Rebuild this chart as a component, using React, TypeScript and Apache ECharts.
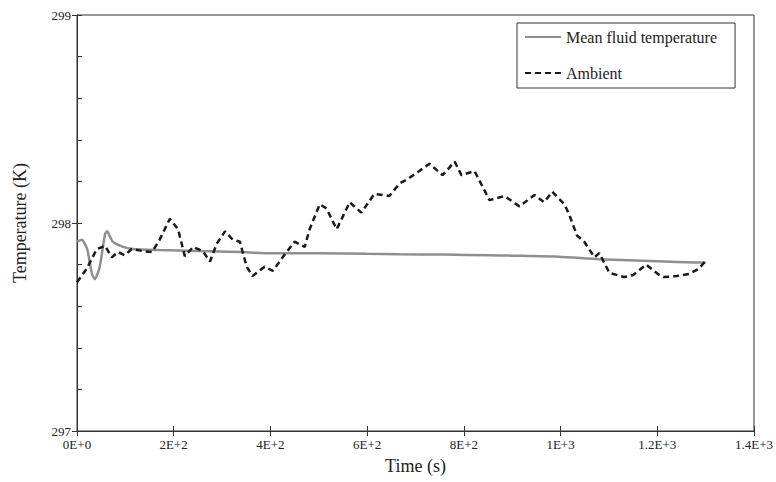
import React, { useEffect, useRef } from "react";
import * as echarts from "echarts";

const meanTime = [0, 10, 21, 31, 37, 47, 58, 62, 74, 95, 116, 171, 250, 337, 400, 500, 600, 667, 760, 850, 900, 997, 1080, 1200, 1286, 1300];
const meanTemp = [297.91, 297.92, 297.875, 297.755, 297.73, 297.79, 297.947, 297.96, 297.91, 297.885, 297.875, 297.87, 297.865, 297.86, 297.855, 297.855, 297.852, 297.85, 297.848, 297.845, 297.843, 297.838, 297.826, 297.816, 297.81, 297.81];

const ambTime = [0, 20, 41, 58, 72, 85, 99, 113, 136, 155, 171, 192, 209, 223, 240, 260, 275, 289, 306, 322, 337, 342, 351, 363, 388, 405, 430, 450, 471, 481, 502, 516, 537, 564, 588, 615, 646, 667, 683, 708, 729, 756, 781, 795, 822, 853, 884, 915, 946, 966, 983, 1008, 1018, 1034, 1049, 1070, 1080, 1101, 1132, 1150, 1177, 1204, 1214, 1240, 1266, 1286, 1297, 1300];
const ambTemp = [297.715, 297.78, 297.875, 297.89, 297.835, 297.86, 297.845, 297.875, 297.865, 297.86, 297.92, 298.02, 297.97, 297.84, 297.885, 297.865, 297.815, 297.9, 297.96, 297.92, 297.91, 297.865, 297.79, 297.745, 297.79, 297.77, 297.85, 297.91, 297.885, 297.97, 298.09, 298.07, 297.97, 298.1, 298.05, 298.14, 298.13, 298.19, 298.21, 298.25, 298.285, 298.23, 298.295, 298.23, 298.25, 298.11, 298.13, 298.08, 298.135, 298.1, 298.15, 298.09, 298.04, 297.94, 297.91, 297.835, 297.855, 297.76, 297.74, 297.75, 297.8, 297.75, 297.74, 297.745, 297.755, 297.78, 297.81, 297.82];

const xTicks = [0, 200, 400, 600, 800, 1000, 1200, 1400];
const yTicks = [297, 298, 299];

const seriesNames = ["Mean fluid temperature", "Ambient"];

function sci(v: number): string {
  if (v === 0) return "0E+0";
  const e = Math.floor(Math.log10(v) + 1e-9);
  const m = Math.round((v / Math.pow(10, e)) * 100) / 100;
  return `${m}E+${e}`;
}

const FONT = "'Liberation Serif', 'Times New Roman', serif";

export default function App() {
  const ref = useRef<HTMLDivElement>(null);
  useEffect(() => {
    document.body.style.margin = "0";
    if (!ref.current) return;
    const chart = echarts.init(ref.current, undefined, { renderer: "svg" });
    const xMin = xTicks[0];
    const xMax = xTicks[xTicks.length - 1];
    const yMin = yTicks[0];
    const yMax = yTicks[yTicks.length - 1];
    chart.setOption({
      animation: false,
      backgroundColor: "#ffffff",
      textStyle: { fontFamily: FONT },
      grid: { left: 77, top: 15, right: 21, bottom: 51, show: true, borderColor: "#333", borderWidth: 1 },
      legend: {
        left: 517,
        top: 23,
        orient: "vertical",
        data: seriesNames,
        borderColor: "#333",
        borderWidth: 1,
        borderRadius: 0,
        padding: [6, 18, 7, 7],
        itemWidth: 36,
        itemHeight: 14,
        itemGap: 20,
        itemStyle: { opacity: 0 },
        textStyle: { fontFamily: FONT, fontSize: 16, color: "#222" },
      },
      xAxis: [
        {
          type: "value",
          min: xMin,
          max: xMax,
          interval: 200,
          name: "Time (s)",
          nameLocation: "middle",
          nameGap: 26,
          nameTextStyle: { fontFamily: FONT, fontSize: 18, color: "#222" },
          axisLine: { show: true, lineStyle: { color: "#333" } },
          axisTick: { show: true, length: 5, lineStyle: { color: "#333" } },
          axisLabel: { formatter: (v: number) => sci(v), fontFamily: FONT, fontSize: 13, color: "#222", margin: 7 },
          splitLine: { show: false },
        },
        {
          type: "value",
          min: xMin,
          max: xMax,
          interval: 200,
          position: "bottom",
          axisLine: { show: false },
          axisTick: { show: true, inside: true, length: 5, lineStyle: { color: "#333" } },
          axisLabel: { show: false },
          splitLine: { show: false },
        },
      ],
      yAxis: [
        {
          type: "value",
          min: yMin,
          max: yMax,
          interval: 1,
          name: "Temperature (K)",
          nameLocation: "middle",
          nameGap: 48,
          nameTextStyle: { fontFamily: FONT, fontSize: 18, color: "#222" },
          axisLine: { show: true, lineStyle: { color: "#333" } },
          axisTick: { show: true, length: 5, lineStyle: { color: "#333" } },
          minorTick: { show: true, splitNumber: 5, length: -5, lineStyle: { color: "#333" } },
          axisLabel: { fontFamily: FONT, fontSize: 13, color: "#222", margin: 6 },
          splitLine: { show: false },
        },
        {
          type: "value",
          min: yMin,
          max: yMax,
          interval: 1,
          position: "left",
          axisLine: { show: false },
          axisTick: { show: true, inside: true, length: 5, lineStyle: { color: "#333" } },
          axisLabel: { show: false },
          splitLine: { show: false },
        },
      ],
      series: [
        {
          name: seriesNames[0],
          type: "line",
          data: meanTime.map((t, i) => [t, meanTemp[i]]),
          symbol: "none",
          smooth: 0.2,
          lineStyle: { color: "#8f8f8f", width: 2.5, type: "solid" },
          itemStyle: { color: "#8f8f8f" },
        },
        {
          name: seriesNames[1],
          type: "line",
          data: ambTime.map((t, i) => [t, ambTemp[i]]),
          symbol: "none",
          lineStyle: { color: "#1a1a1a", width: 2.5, type: [6, 4] },
          itemStyle: { color: "#1a1a1a" },
        },
      ],
    });
    return () => chart.dispose();
  }, []);
  return <div ref={ref} style={{ width: 776, height: 482 }} />;
}
